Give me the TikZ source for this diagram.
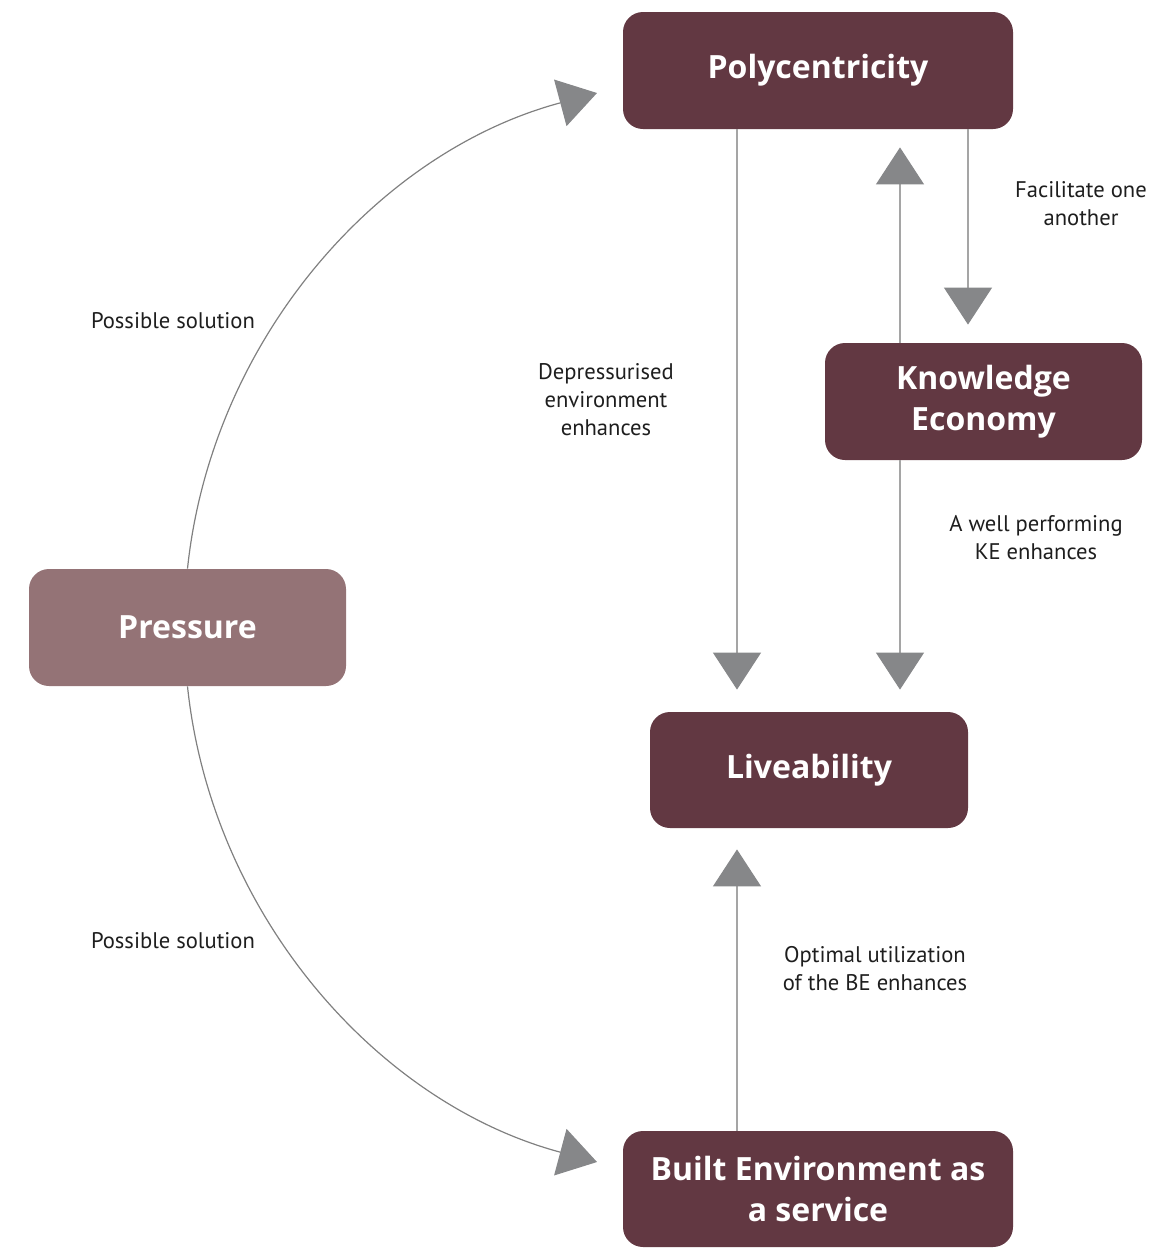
\documentclass[tikz,border=0pt]{standalone}
\usepackage{fontspec}
\setmainfont{PT Sans}
\newfontfamily\boxfont{Open Sans}
\usetikzlibrary{arrows.meta}

\definecolor{boxdark}{RGB}{98,56,66}
\definecolor{boxlight}{RGB}{148,115,118}
\definecolor{tipgray}{RGB}{134,135,137}
\definecolor{linegray}{RGB}{165,165,165}
\definecolor{curvegray}{RGB}{128,128,128}

\begin{document}
\begin{tikzpicture}[x=0.5pt, y=0.5pt,
        box/.style={rectangle, rounded corners=10pt, fill=boxdark, text=white, inner sep=0pt, align=center, font=\boxfont\fontsize{16}{20.5}\selectfont\bfseries},
        note/.style={align=center, inner sep=0pt, text={rgb,255:red,30;green,30;blue,30}, font=\fontsize{11.3}{14}\selectfont},
        flow/.style={draw=linegray, line width=0.6pt, -{Triangle[width=24pt, length=18.5pt, color=tipgray]}},
        curvearrow/.style={draw=curvegray, line width=0.6pt, -{Triangle[width=24pt, length=19pt, color=tipgray]}}]
        \useasboundingbox (0,0) rectangle (1152,-1250);

        % Nodes
        \node[box, minimum width=195pt, minimum height=58.5pt] at (818, -70.5) (poly) {Polycentricity};
        \node[box, minimum width=158.5pt, minimum height=58.5pt] at (983.5, -401.5) (ke) {Knowledge\\Economy};
        \node[box, fill=boxlight, minimum width=158.5pt, minimum height=58.5pt] at (187.5, -627.5) (press) {Pressure};
        \node[box, minimum width=159pt, minimum height=58pt] at (809, -770) (live) {Liveability};
        \node[box, minimum width=195pt, minimum height=58pt] at (818, -1189) (bes) {Built Environment as\\a service};

        % Labels
        \node[note] at (173, -321) (sol1) {Possible solution};
        \node[note] at (173, -941) (sol2) {Possible solution};
        \node[note] at (606, -400) (dep) {Depressurised\\environment\\enhances};
        \node[note] at (1081, -204) (fac) {Facilitate one\\another};
        \node[note] at (1036, -538) (wel) {A well performing\\KE enhances};
        \node[note] at (875, -969) (opt) {Optimal utilization\\of the BE enhances};

        % Columns and free ends
        \coordinate (colA) at (737, 0);
        \coordinate (colB) at (900, 0);
        \coordinate (colC) at (968, 0);
        \coordinate (polyin) at (597, -93);
        \coordinate (besin) at (597, -1162);

        \draw[flow, shorten >=11pt]   (poly.south -| colA) -- (live.north -| colA);
        \draw[flow, shorten >=9pt]    (poly.south -| colC) -- (ke.north -| colC);
        \draw[flow, shorten >=9pt]    (ke.north -| colB) -- (poly.south -| colB);
        \draw[flow, shorten >=11pt]   (ke.south -| colB) -- (live.north -| colB);
        \draw[flow, shorten >=10.5pt] (bes.north -| colA) -- (live.south -| colA);

        \draw[curvearrow] (press.north) to[out=84, in=195, looseness=0.93] (polyin);
        \draw[curvearrow] (press.south) to[out=-84, in=165, looseness=0.93] (besin);
    \end{tikzpicture}
\end{document}
